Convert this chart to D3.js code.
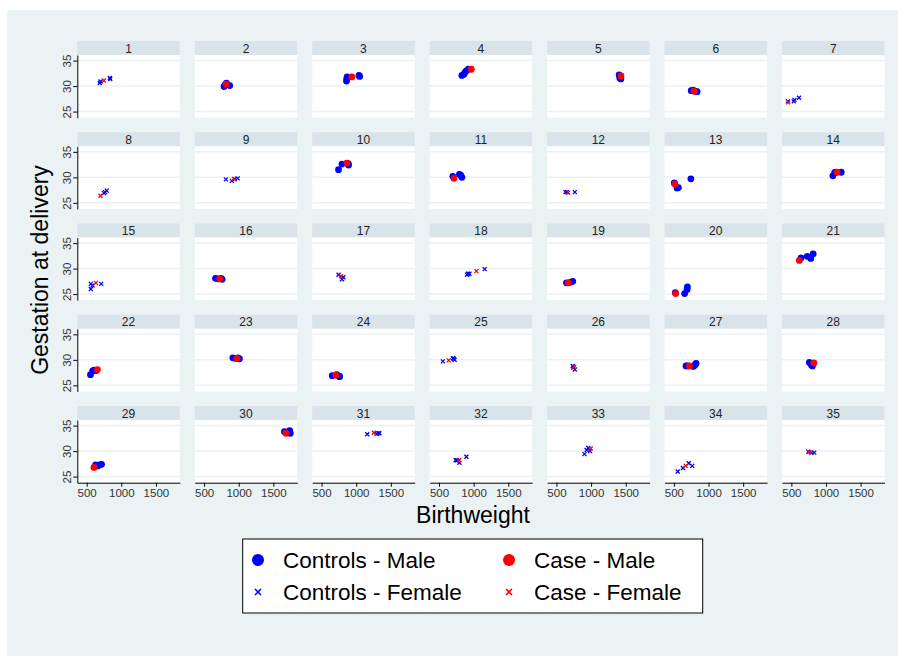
<!DOCTYPE html>
<html>
<head>
<meta charset="utf-8">
<script src="https://cdn.jsdelivr.net/npm/d3@7"></script>
<style>
  body { margin: 0; background: #fff; }
  text { font-family: "Liberation Sans", Arial, sans-serif; }
</style>
</head>
<body>
<svg id="vis_scatter" width="905" height="665"></svg>
<script>
// panel ids (by group)
var panelIds = d3.range(1, 36);

// [panel, birthweight, gestation]
var controlsMale = [
  [2,788,29.9],[2,805,30.3],[2,822,30.6],[2,870,30.1],
  [3,860,31.0],[3,865,31.5],[3,870,31.8],[3,1040,32.1],[3,1050,31.9],
  [4,830,32.1],[4,860,32.3],[4,875,32.7],[4,895,33.0],[4,925,33.3],
  [5,1405,32.2],[5,1415,31.6],[5,1430,31.4],[5,1420,31.9],
  [6,750,29.1],[6,775,29.2],[6,810,29.0],[6,835,28.9],
  [10,745,31.5],[10,795,32.6],[10,890,32.4],[10,885,32.7],
  [11,700,30.2],[11,795,30.6],[11,815,30.4],[11,830,30.0],
  [13,505,28.9],[13,545,27.9],[13,565,28.0],[13,745,29.7],
  [14,1100,30.3],[14,1125,30.9],[14,1140,31.0],[14,1220,31.0],
  [16,665,28.1],[16,700,28.0],[16,745,28.1],[16,760,27.9],
  [19,645,27.2],[19,700,27.3],[19,735,27.5],
  [20,520,25.3],[20,655,25.1],[20,690,25.9],[20,695,26.4],
  [21,640,32.1],[21,730,32.4],[21,780,32.0],[21,815,32.9],
  [22,555,27.1],[22,585,27.8],[22,605,28.0],[22,640,27.9],
  [23,915,30.4],[23,950,30.3],[23,1010,30.2],[23,990,30.4],
  [24,655,26.9],[24,720,27.1],[24,755,26.8],[24,760,26.7],
  [27,675,28.8],[27,700,28.8],[27,780,28.7],[27,805,29.0],[27,820,29.3],
  [28,760,29.5],[28,790,29.0],[28,805,28.8],
  [29,630,27.3],[29,660,27.1],[29,690,27.3],[29,715,27.4],
  [30,1660,33.8],[30,1735,34.0],[30,1745,33.5],[30,1725,33.6]
];
var caseMale = [
  [2,817,30.4],[3,937,31.8],[4,965,33.3],[5,1432,32.0],[6,790,29.0],
  [10,865,32.8],[11,715,29.8],[13,515,28.7],[14,1160,31.0],[16,725,28.0],
  [19,670,27.2],[20,525,25.1],[21,615,31.6],[22,655,28.1],[23,975,30.3],
  [24,705,27.0],[27,725,28.8],[28,825,29.4],[29,605,26.8],[30,1680,33.5]
];
var controlsFemale = [
  [1,690,30.6],[1,700,30.9],[1,835,31.6],[1,840,31.4],
  [7,450,27.0],[7,535,27.0],[7,545,27.3],[7,610,27.7],
  [8,750,26.9],[8,765,27.1],[8,790,27.4],
  [9,815,29.6],[9,900,29.3],[9,940,29.6],[9,985,29.8],
  [12,630,27.1],[12,650,27.1],[12,765,27.1],
  [15,560,26.0],[15,560,27.0],[15,585,26.7],[15,710,27.0],
  [17,745,28.8],[17,795,27.9],[17,815,28.3],
  [18,905,28.8],[18,920,29.0],[18,940,29.0],[18,1160,29.9],
  [25,555,29.7],[25,700,30.3],[25,715,30.2],[25,725,30.0],
  [26,735,28.8],[26,745,28.5],[26,765,28.1],
  [31,1160,33.3],[31,1295,33.4],[31,1320,33.5],[31,1335,33.5],
  [32,740,28.2],[32,760,28.2],[32,795,27.7],[32,895,28.9],
  [33,905,29.4],[33,935,30.2],[33,960,30.6],[33,985,30.0],
  [34,555,26.0],[34,630,26.7],[34,715,27.6],[34,765,27.1],
  [35,745,29.9],[35,790,29.7],[35,830,29.7]
];
var caseFemale = [
  [1,750,31.1],[7,455,26.8],[8,700,26.4],[9,930,29.7],[12,670,27.0],
  [15,635,27.2],[17,780,28.5],[18,1040,29.5],[25,640,29.9],[26,755,28.6],
  [31,1255,33.6],[32,790,28.2],[33,995,30.5],[34,670,27.1],[35,760,29.8]
];

var xTicks = [500, 1000, 1500];
var yTicks = [25, 30, 35];

var legendItems = [
  {label: "Controls - Male", color: "#0000ff", shape: "circle"},
  {label: "Case - Male", color: "#ff0000", shape: "circle"},
  {label: "Controls - Female", color: "#0000ff", shape: "cross"},
  {label: "Case - Female", color: "#ff0000", shape: "cross"}
];

var svg = d3.select("#vis_scatter");

// graph region
svg.append("rect")
  .attr("x", 7).attr("y", 10)
  .attr("width", 891).attr("height", 646)
  .attr("fill", "#eaf2f3");

var ncol = 7,
    left0 = 77.3, top0 = 41,
    stepX = 117.45, stepY = 91.25,
    pw = 102.5, stripH = 14, ph = 62.7;

var x = d3.scaleLinear().domain([365, 1845]).range([0, pw]);
var y = d3.scaleLinear().domain([23.8, 36.1]).range([ph, 0]);

var panels = svg.append("g")
  .selectAll("g")
  .data(panelIds)
  .enter()
  .append("g")
    .attr("transform", function(d, i) {
      return "translate(" + (left0 + (i % ncol) * stepX) + "," + (top0 + Math.floor(i / ncol) * stepY) + ")";
    });

// strip title
panels.append("rect")
  .attr("width", pw).attr("height", stripH)
  .attr("fill", "#d9e4ea");
panels.append("text")
  .attr("x", pw / 2).attr("y", stripH / 2 + 4.5)
  .attr("text-anchor", "middle")
  .attr("font-size", 12)
  .attr("fill", "#222")
  .text(function(d) { return d; });

// plot region
var plots = panels.append("g").attr("transform", "translate(0," + stripH + ")");
plots.append("rect")
  .attr("width", pw).attr("height", ph)
  .attr("fill", "#fff");
plots.selectAll("line.grid")
  .data(yTicks)
  .enter()
  .append("line")
    .attr("class", "grid")
    .attr("x1", 0).attr("x2", pw)
    .attr("y1", function(d) { return y(d); })
    .attr("y2", function(d) { return y(d); })
    .attr("stroke", "#eaf2f3")
    .attr("stroke-width", 1.5);

// y axis on first column
plots.filter(function(d, i) { return i % ncol === 0; })
  .append("g")
  .call(d3.axisLeft(y).tickValues(yTicks).tickSize(4).tickSizeOuter(0))
  .call(function(g) {
    g.select(".domain").attr("stroke", "#000");
    g.selectAll(".tick line").attr("stroke", "#000");
    g.selectAll(".tick text")
      .attr("font-size", 11.5)
      .attr("fill", "#333")
      .attr("font-family", "Liberation Sans, Arial, sans-serif")
      .attr("transform", "rotate(-90)")
      .attr("x", 0).attr("y", -6)
      .attr("dy", "0")
      .attr("text-anchor", "middle");
  });

// x axis on last row
plots.filter(function(d, i) { return i >= 28; })
  .append("g")
  .attr("transform", "translate(0," + ph + ")")
  .call(d3.axisBottom(x).tickValues(xTicks).tickFormat(d3.format("d")).tickSize(4).tickSizeOuter(0))
  .call(function(g) {
    g.select(".domain").attr("stroke", "#000");
    g.selectAll(".tick line").attr("stroke", "#000");
    g.selectAll(".tick text")
      .attr("font-size", 11.5)
      .attr("fill", "#333")
      .attr("font-family", "Liberation Sans, Arial, sans-serif")
      .attr("y", 6);
  });

// markers
function drawCircles(rows, color) {
  plots.selectAll(null)
    .data(function(p) { return rows.filter(function(r) { return r[0] === p; }); })
    .enter()
    .append("circle")
      .attr("cx", function(d) { return x(d[1]); })
      .attr("cy", function(d) { return y(d[2]); })
      .attr("r", 3.4)
      .attr("fill", color);
}
function drawCrosses(rows, color) {
  plots.selectAll(null)
    .data(function(p) { return rows.filter(function(r) { return r[0] === p; }); })
    .enter()
    .append("path")
      .attr("transform", function(d) { return "translate(" + x(d[1]) + "," + y(d[2]) + ")"; })
      .attr("d", "M-2,-2L2,2M-2,2L2,-2")
      .attr("stroke", color)
      .attr("stroke-width", 1.3)
      .attr("fill", "none");
}
drawCircles(controlsMale, "#0000ff");
drawCircles(caseMale, "#ff0000");
drawCrosses(controlsFemale, "#0000ff");
drawCrosses(caseFemale, "#ff0000");

// axis titles
svg.append("text")
  .attr("transform", "translate(48,270) rotate(-90)")
  .attr("text-anchor", "middle")
  .attr("font-size", 23)
  .attr("fill", "#000")
  .text("Gestation at delivery");
svg.append("text")
  .attr("x", 473).attr("y", 523)
  .attr("text-anchor", "middle")
  .attr("font-size", 23)
  .attr("fill", "#000")
  .text("Birthweight");

// legend
var legend = svg.append("g");
legend.append("rect")
  .attr("x", 242.7).attr("y", 539)
  .attr("width", 460).attr("height", 74)
  .attr("fill", "#fff")
  .attr("stroke", "#000")
  .attr("stroke-width", 1);

var items = legend.selectAll("g.item")
  .data(legendItems)
  .enter()
  .append("g")
    .attr("class", "item")
    .attr("transform", function(d, i) {
      return "translate(" + (258 + (i % 2) * 251) + "," + (560 + Math.floor(i / 2) * 32) + ")";
    });
items.filter(function(d) { return d.shape === "circle"; })
  .append("circle")
  .attr("r", 6)
  .attr("fill", function(d) { return d.color; });
items.filter(function(d) { return d.shape === "cross"; })
  .append("path")
  .attr("d", "M-3,-3L3,3M-3,3L3,-3")
  .attr("stroke", function(d) { return d.color; })
  .attr("stroke-width", 1.6);
items.append("text")
  .attr("x", 25).attr("y", 8)
  .attr("font-size", 22.5)
  .attr("fill", "#000")
  .text(function(d) { return d.label; });
</script>
</body>
</html>
